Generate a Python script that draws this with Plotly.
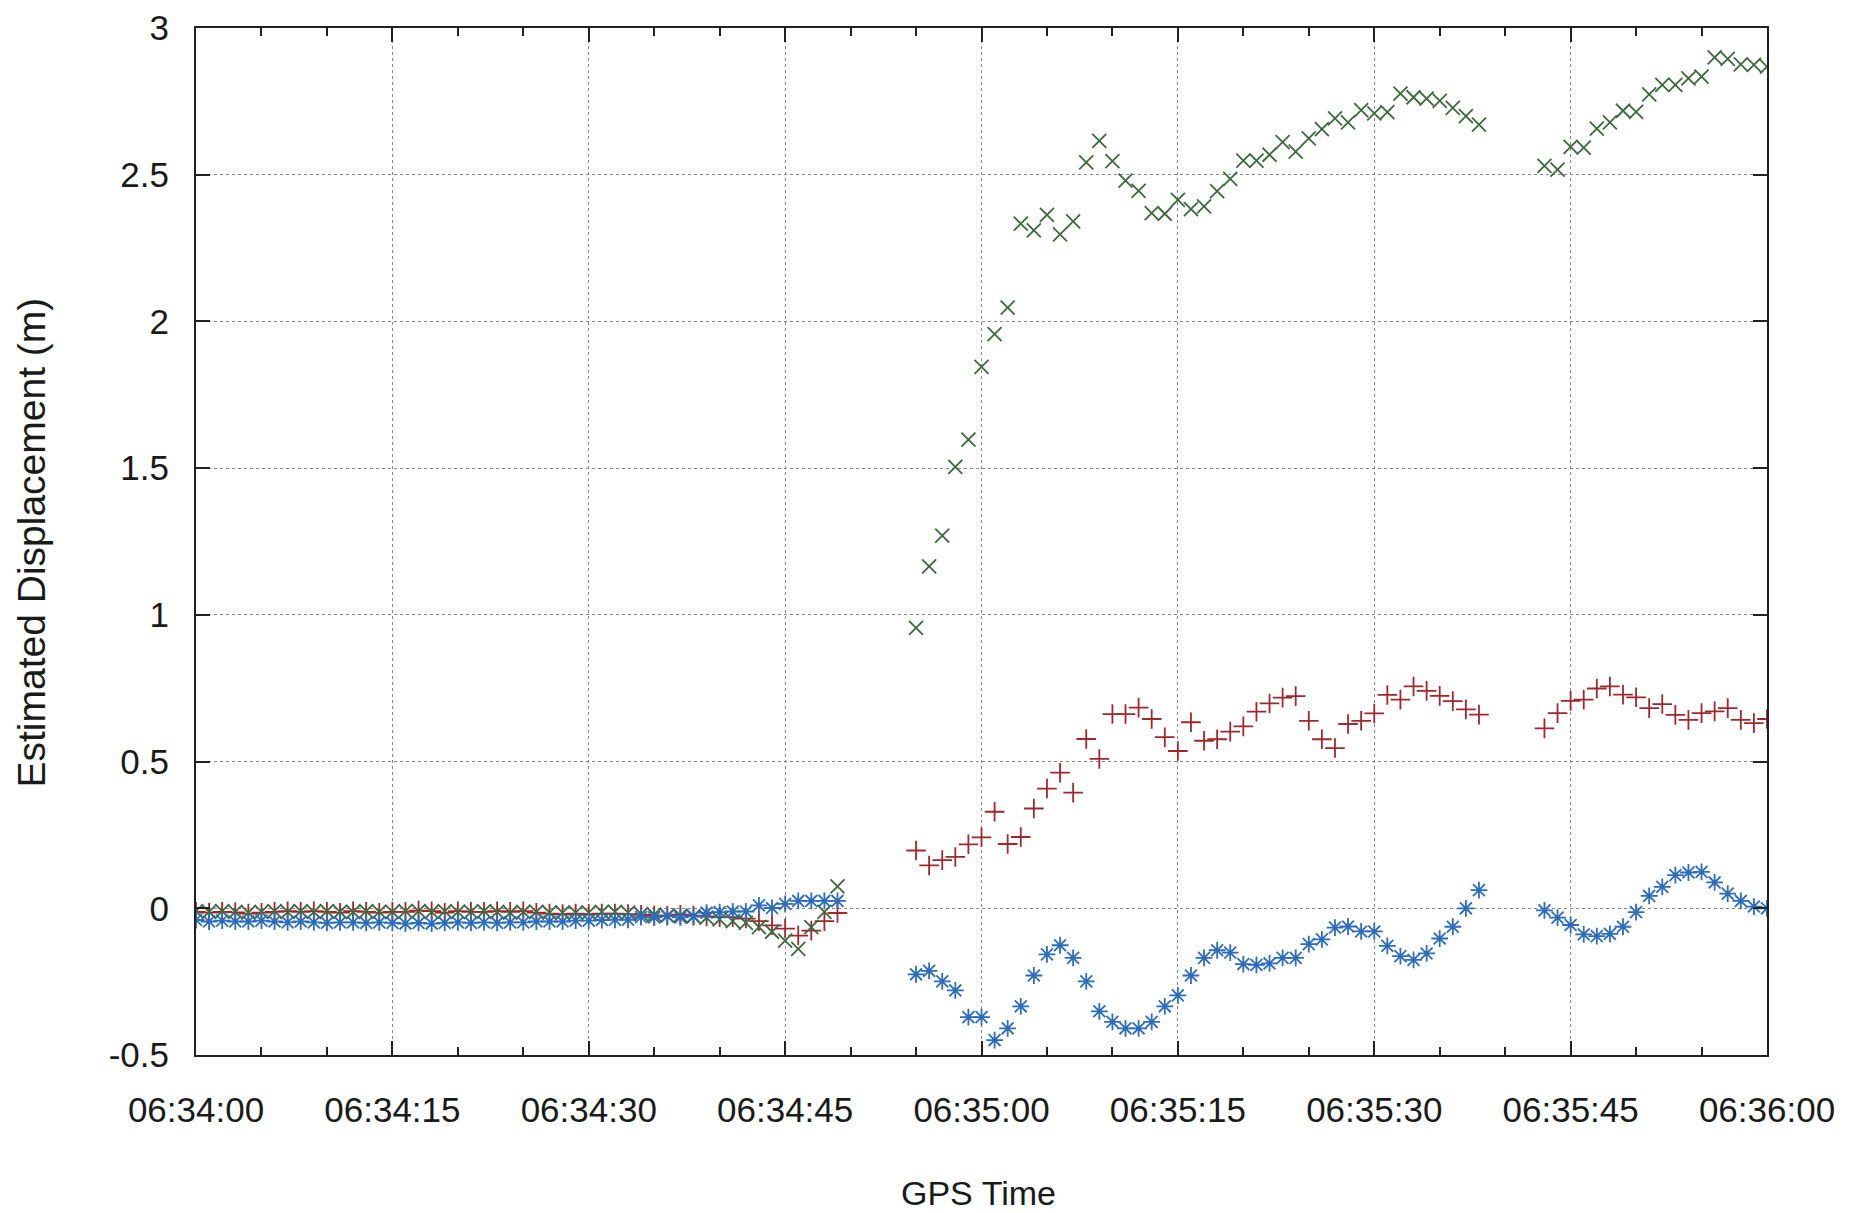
import plotly.graph_objects as go

# ---- data: seconds after 06:34:00, sampled at 1 Hz with two gaps ----
t_seg1 = list(range(0, 50))
t_seg2 = list(range(55, 99))
t_seg3 = list(range(103, 121))

red_seg1 = [-0.012, -0.015, -0.012, -0.014, -0.018, -0.015, -0.012, -0.010, -0.012, -0.010,
            -0.012, -0.015, -0.010, -0.012, -0.015, -0.012, -0.012, -0.008, -0.010, -0.015,
            -0.010, -0.012, -0.012, -0.010, -0.012, -0.010, -0.015, -0.018, -0.020, -0.018,
            -0.020, -0.018, -0.018, -0.020, -0.022, -0.025, -0.025, -0.022, -0.025, -0.028,
            -0.030, -0.030, -0.035, -0.044, -0.058, -0.069, -0.093, -0.076, -0.044, -0.016]
red_seg2 = [0.197, 0.146, 0.164, 0.175, 0.218, 0.242, 0.329, 0.219, 0.243, 0.340,
            0.408, 0.462, 0.394, 0.577, 0.509, 0.662, 0.662, 0.684, 0.645, 0.583,
            0.536, 0.634, 0.571, 0.576, 0.602, 0.620, 0.670, 0.698, 0.718, 0.723,
            0.639, 0.576, 0.546, 0.628, 0.639, 0.664, 0.727, 0.711, 0.756, 0.741,
            0.724, 0.706, 0.678, 0.660]
red_seg3 = [0.613, 0.665, 0.707, 0.711, 0.749, 0.756, 0.728, 0.719, 0.682, 0.696,
            0.659, 0.642, 0.665, 0.671, 0.682, 0.642, 0.631, 0.645]

green_seg1 = [-0.010, -0.012, -0.010, -0.012, -0.015, -0.012, -0.010, -0.012, -0.010, -0.012,
              -0.010, -0.012, -0.012, -0.010, -0.012, -0.012, -0.010, -0.010, -0.012, -0.010,
              -0.012, -0.012, -0.010, -0.012, -0.015, -0.012, -0.012, -0.015, -0.015, -0.015,
              -0.015, -0.012, -0.012, -0.015, -0.020, -0.022, -0.025, -0.025, -0.028, -0.032,
              -0.038, -0.044, -0.050, -0.064, -0.080, -0.110, -0.138, -0.064, -0.012, 0.075]
green_seg2 = [0.956, 1.165, 1.270, 1.504, 1.597, 1.845, 1.957, 2.047, 2.333, 2.310,
              2.363, 2.297, 2.341, 2.542, 2.615, 2.546, 2.480, 2.445, 2.369, 2.367,
              2.414, 2.383, 2.392, 2.444, 2.486, 2.548, 2.548, 2.568, 2.611, 2.579,
              2.624, 2.655, 2.692, 2.678, 2.720, 2.709, 2.713, 2.776, 2.764, 2.759,
              2.752, 2.728, 2.700, 2.671]
green_seg3 = [2.530, 2.517, 2.595, 2.592, 2.657, 2.678, 2.718, 2.714, 2.774, 2.806,
              2.806, 2.828, 2.834, 2.900, 2.895, 2.876, 2.874, 2.868]

blue_seg1 = [-0.040, -0.045, -0.042, -0.045, -0.045, -0.042, -0.045, -0.048, -0.045, -0.048,
             -0.050, -0.048, -0.048, -0.050, -0.048, -0.050, -0.052, -0.050, -0.052, -0.050,
             -0.048, -0.050, -0.048, -0.050, -0.048, -0.048, -0.045, -0.045, -0.045, -0.042,
             -0.042, -0.040, -0.039, -0.039, -0.030, -0.031, -0.027, -0.031, -0.027, -0.015,
             -0.013, -0.011, -0.011, 0.010, 0.001, 0.015, 0.025, 0.025, 0.025, 0.025]
blue_seg2 = [-0.225, -0.213, -0.249, -0.280, -0.371, -0.371, -0.449, -0.409, -0.334, -0.229,
             -0.157, -0.126, -0.169, -0.249, -0.351, -0.387, -0.409, -0.409, -0.387, -0.334,
             -0.297, -0.229, -0.169, -0.143, -0.151, -0.190, -0.193, -0.188, -0.169, -0.169,
             -0.122, -0.106, -0.066, -0.062, -0.079, -0.079, -0.128, -0.163, -0.176, -0.154,
             -0.103, -0.063, 0.000, 0.062]
blue_seg3 = [-0.007, -0.032, -0.057, -0.089, -0.095, -0.087, -0.063, -0.013, 0.042, 0.073,
             0.113, 0.122, 0.124, 0.088, 0.050, 0.025, 0.006, 0.000]

x_tick_vals = [0, 15, 30, 45, 60, 75, 90, 105, 120]
x_tick_text = ["06:34:00", "06:34:15", "06:34:30", "06:34:45", "06:35:00",
               "06:35:15", "06:35:30", "06:35:45", "06:36:00"]
y_tick_vals = [-0.5, 0, 0.5, 1, 1.5, 2, 2.5, 3]
y_tick_text = ["-0.5", "0", "0.5", "1", "1.5", "2", "2.5", "3"]

t_all = t_seg1 + t_seg2 + t_seg3
series = [
    ("red", red_seg1 + red_seg2 + red_seg3, "cross-thin", "#a0282c"),
    ("green", green_seg1 + green_seg2 + green_seg3, "x-thin", "#3b6a3b"),
    ("blue", blue_seg1 + blue_seg2 + blue_seg3, "asterisk", "#2b6cbf"),
]

fig = go.Figure()
for name, vals, sym, col in series:
    fig.add_trace(go.Scatter(
        x=t_all, y=vals, mode="markers", name=name,
        marker=dict(symbol=sym, size=14, color=col,
                    line=dict(color=col, width=1.8)),
        showlegend=False,
    ))

font_family = "Liberation Sans, Arial, sans-serif"
fig.update_layout(
    width=1842, height=1205,
    margin=dict(l=188, r=83, t=20, b=158),
    paper_bgcolor="white", plot_bgcolor="white",
    font=dict(family=font_family, size=35, color="#1a1a1a"),
)
fig.update_xaxes(
    range=[0, 120], tickvals=x_tick_vals, ticktext=x_tick_text,
    showline=True, linecolor="#222", linewidth=2, mirror="allticks",
    ticks="inside", ticklen=14, tickwidth=2, tickcolor="#222",
    showgrid=True, gridcolor="#888", griddash="dot", gridwidth=1.2,
    zeroline=False, ticklabelstandoff=23, automargin=False,
    minor=dict(dtick=5, tick0=0, ticks="inside", ticklen=8, tickwidth=2,
               tickcolor="#222", showgrid=False),
)
fig.update_yaxes(
    range=[-0.5, 3], tickvals=y_tick_vals, ticktext=y_tick_text,
    showline=True, linecolor="#222", linewidth=2, mirror="allticks",
    ticks="inside", ticklen=14, tickwidth=2, tickcolor="#222",
    showgrid=True, gridcolor="#888", griddash="dot", gridwidth=1.2,
    zeroline=False, ticklabelstandoff=18, automargin=False,
)
fig.add_annotation(text="GPS Time", xref="paper", yref="paper",
                   x=0.498, y=-0.1345, showarrow=False,
                   font=dict(size=34), xanchor="center", yanchor="middle")
fig.add_annotation(text="Estimated Displacement (m)", xref="paper", yref="paper",
                   x=-0.1044, y=0.499, showarrow=False, textangle=-90,
                   font=dict(size=39), xanchor="center", yanchor="middle")

fig.write_html("out.html")
